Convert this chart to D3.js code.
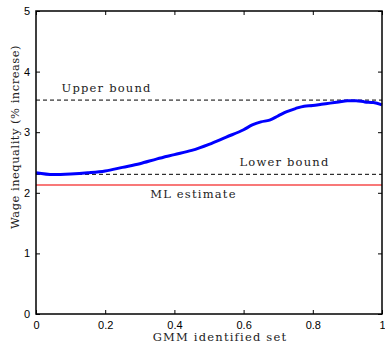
<!DOCTYPE html>
<html>
<head>
<meta charset="utf-8">
<script src="https://cdn.jsdelivr.net/npm/d3@7"></script>
<style>
  html, body { margin: 0; padding: 0; background: #fff; }
  svg { display: block; }
  .tick text { font-family: "Liberation Sans", Arial, sans-serif; font-size: 11px; fill: #000; }
  .lbl { font-family: "DejaVu Serif", "Liberation Serif", serif; font-size: 11.5px; fill: #222; letter-spacing: 1.2px; }
</style>
</head>
<body>
<script>
// GMM identified set position vs wage inequality
const xs = [0, 0.05, 0.1, 0.15, 0.2, 0.25, 0.3, 0.35, 0.4, 0.45, 0.5, 0.55, 0.6, 0.625, 0.65, 0.675,
  0.7, 0.725, 0.75, 0.775, 0.8, 0.825, 0.85, 0.875, 0.9, 0.925, 0.95, 0.975, 1];
const wage = [2.33, 2.30, 2.31, 2.33, 2.36, 2.42, 2.48, 2.56, 2.63, 2.70, 2.80, 2.92, 3.04, 3.12, 3.17, 3.20,
  3.27, 3.34, 3.39, 3.43, 3.44, 3.46, 3.48, 3.50, 3.52, 3.52, 3.50, 3.49, 3.45];
const upperBound = 3.53;
const lowerBound = 2.305;
const mlEstimate = 2.13;
const xTicks = [0, 0.2, 0.4, 0.6, 0.8, 1];
const yTicks = [0, 1, 2, 3, 4, 5];

const W = 385, H = 344;
const M = { top: 11, right: 3, bottom: 30, left: 36 };
const CW = W - M.left - M.right;
const CH = H - M.top - M.bottom;

const svg = d3.select("body").append("svg").attr("width", W).attr("height", H);
const g = svg.append("g").attr("transform", `translate(${M.left},${M.top})`);

const x = d3.scaleLinear().domain([0, 1]).range([0, CW]);
const y = d3.scaleLinear().domain([0, 5]).range([CH, 0]);

const fmtX = d => d === 0 || d === 1 ? String(d) : d3.format(".1f")(d);

// axes with inward ticks
g.append("g").attr("transform", `translate(0,${CH})`)
  .call(d3.axisBottom(x).tickValues(xTicks).tickFormat(fmtX).tickSizeInner(-4).tickSizeOuter(0).tickPadding(7))
  .call(ax => ax.select(".domain").remove());
g.append("g")
  .call(d3.axisLeft(y).tickValues(yTicks).tickFormat(d3.format("d")).tickSizeInner(-4).tickSizeOuter(0).tickPadding(6))
  .call(ax => ax.select(".domain").remove());
g.append("g")
  .call(d3.axisTop(x).tickValues(xTicks).tickFormat("").tickSizeInner(-4).tickSizeOuter(0))
  .call(ax => ax.select(".domain").remove());
g.append("g").attr("transform", `translate(${CW},0)`)
  .call(d3.axisRight(y).tickValues(yTicks).tickFormat("").tickSizeInner(-4).tickSizeOuter(0))
  .call(ax => ax.select(".domain").remove());
g.selectAll(".tick line").attr("stroke", "#000");

// reference lines
const hline = (v, color, width, dash) => g.append("line")
  .attr("x1", 0).attr("x2", CW).attr("y1", y(v)).attr("y2", y(v))
  .attr("stroke", color).attr("stroke-width", width).attr("stroke-dasharray", dash);
hline(mlEstimate, "#f87878", 2, null);
hline(upperBound, "#000", 1, "4,3");
hline(lowerBound, "#000", 1, "4,3");

// wage inequality curve
g.append("path").datum(d3.zip(xs, wage))
  .attr("d", d3.line().x(d => x(d[0])).y(d => y(d[1])).curve(d3.curveMonotoneX))
  .attr("fill", "none").attr("stroke", "#0000ff").attr("stroke-width", 3);

// frame
g.append("rect").attr("width", CW).attr("height", CH)
  .attr("fill", "none").attr("stroke", "#000").attr("stroke-width", 1.5);

// annotations
g.append("text").attr("class", "lbl").attr("x", x(0.074)).attr("y", y(upperBound) - 8).text("Upper bound");
g.append("text").attr("class", "lbl").attr("x", x(0.588)).attr("y", y(lowerBound) - 8).text("Lower bound");
g.append("text").attr("class", "lbl").attr("x", x(0.33)).attr("y", y(mlEstimate) + 13).text("ML estimate");

// axis titles
svg.append("text").attr("class", "lbl").attr("text-anchor", "middle")
  .attr("x", 220).attr("y", H - 3).text("GMM identified set");
svg.append("text").attr("class", "lbl").attr("text-anchor", "middle")
  .style("letter-spacing", "0.5px")
  .attr("transform", `translate(19,137) rotate(-90)`)
  .text("Wage inequality (% increase)");
</script>
</body>
</html>
